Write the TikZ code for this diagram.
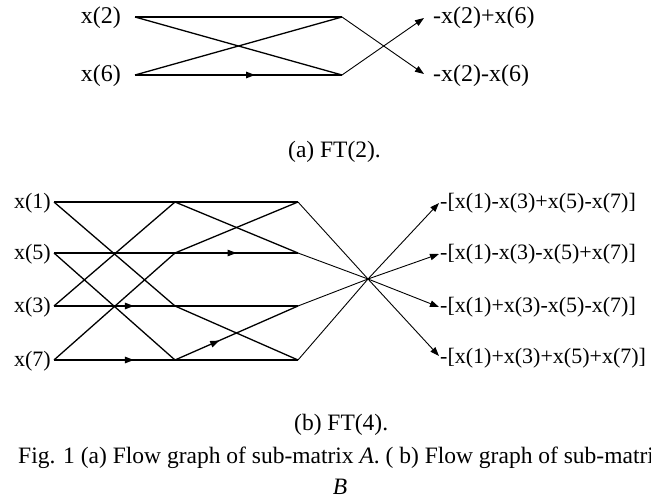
\documentclass[tikz,border=0pt]{standalone}
\usepackage{fontspec}
\setmainfont{Liberation Serif}
\usetikzlibrary{arrows.meta,decorations.markings}
\tikzset{
  edge/.style={line width=1.3pt},
  thin edge/.style={line width=0.9pt},
  tip/.style={-{Triangle[length=9pt,width=6.5pt]}},
  marr/.style={postaction={decorate},decoration={markings,
     mark=at position #1 with {\arrow{Triangle[length=9pt,width=6.5pt]}}}},
  biglab/.style={inner sep=0pt,font=\fontsize{24}{28}\selectfont},
  lab/.style={inner sep=0pt,font=\fontsize{22}{26}\selectfont},
  captxt/.style={inner sep=0pt,font=\fontsize{23.5}{27}\selectfont},
}
\begin{document}
\begin{tikzpicture}[x=1pt,y=-1pt]
\useasboundingbox (0,0) rectangle (651,500);
\clip (0,0) rectangle (651,500);
% ---------- (a) FT(2) ----------
\coordinate (a0) at (135,17);
\coordinate (b0) at (135,75);
\coordinate (a1) at (342,17);
\coordinate (b1) at (342,75);
\coordinate (oa) at (424,18);
\coordinate (ob) at (424,74);
\node[biglab,anchor=east] (la) at (121,18) {x(2)};
\node[biglab,anchor=east] (lb) at (121,76) {x(6)};
\node[biglab,anchor=west] (ra) at (433,18) {-x(2)+x(6)};
\node[biglab,anchor=west] (rb) at (433,76) {-x(2)-x(6)};
\draw[edge] (a0) -- (a1);
\draw[edge,marr=0.58] (b0) -- (b1);
\draw[edge] (a0) -- (b1);
\draw[edge] (b0) -- (a1);
\draw[thin edge,tip] (a1) -- (ob);
\draw[thin edge,tip] (b1) -- (oa);
\node[captxt,anchor=base west] (capa) at (288,158) {(a) FT(2).};
% ---------- (b) FT(4) ----------
\foreach \i/\y in {1/202,2/253,3/306,4/360}{
  \coordinate (p\i) at (54,\y);
  \coordinate (q\i) at (175,\y);
  \coordinate (r\i) at (298,\y);
}
\coordinate (ctr) at (368,279);
\coordinate (o1) at (439,203);
\coordinate (o2) at (439,254);
\coordinate (o3) at (439,307);
\coordinate (o4) at (439,356);
\node[lab,anchor=east] (l1) at (51,203) {x(1)};
\node[lab,anchor=east] (l2) at (51,254) {x(5)};
\node[lab,anchor=east] (l3) at (51,307) {x(3)};
\node[lab,anchor=east] (l4) at (51,361) {x(7)};
% stage 1
\draw[edge] (p1) -- (q1);
\draw[edge] (p1) -- (q3);
\draw[edge] (p2) -- (q2);
\draw[edge] (p2) -- (q4);
\draw[edge] (p3) -- (q1);
\draw[edge,marr=0.66] (p3) -- (q3);
\draw[edge] (p4) -- (q2);
\draw[edge,marr=0.66] (p4) -- (q4);
% stage 2
\draw[edge] (q1) -- (r1);
\draw[edge] (q1) -- (r2);
\draw[edge,marr=0.5] (q2) -- (r2);
\draw[edge] (q2) -- (r1);
\draw[edge] (q3) -- (r3);
\draw[edge] (q3) -- (r4);
\draw[edge,marr=0.36] (q4) -- (r3);
\draw[edge] (q4) -- (r4);
% stage 3
\draw[thin edge,tip] (r1) -- (ctr) -- (o4);
\draw[thin edge,tip] (r2) -- (ctr) -- (o3);
\draw[thin edge,tip] (r3) -- (ctr) -- (o2);
\draw[thin edge,tip] (r4) -- (ctr) -- (o1);
\node[lab,anchor=west] (m1) at (440,203) {-[x(1)-x(3)+x(5)-x(7)]};
\node[lab,anchor=west] (m2) at (440,254) {-[x(1)-x(3)-x(5)+x(7)]};
\node[lab,anchor=west] (m3) at (440,307) {-[x(1)+x(3)-x(5)-x(7)]};
\node[lab,anchor=west] (m4) at (440,358) {-[x(1)+x(3)+x(5)+x(7)]};
\node[captxt,anchor=base west] (capb) at (294,430) {(b) FT(4).};
\node[captxt,anchor=base west] (fig) at (18,463) {Fig. 1 (a) Flow graph of sub-matrix \textit{A}. ( b) Flow graph of sub-matrix};
\node[captxt,anchor=base] (figB) at (340,494) {\textit{B}};
\end{tikzpicture}
\end{document}
